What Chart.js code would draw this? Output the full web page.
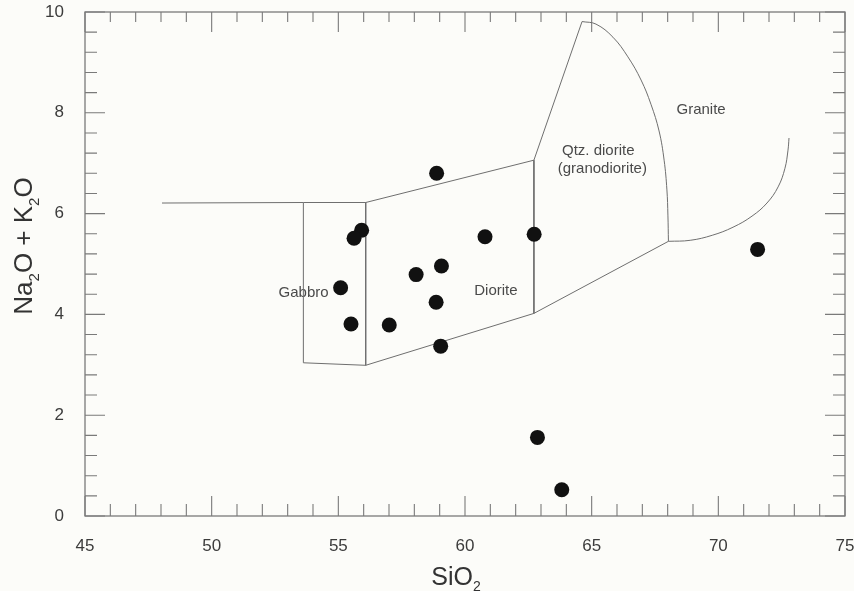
<!DOCTYPE html>
<html>
<head>
<meta charset="utf-8">
<script src="https://cdn.jsdelivr.net/npm/chart.js@4.4.1/dist/chart.umd.min.js"></script>
<style>
  html, body { margin: 0; padding: 0; background: #fcfcf9; }
  canvas { display: block; }
</style>
</head>
<body>
<canvas id="tas" width="854" height="591"></canvas>
<script>
// Sample analyses: SiO2 (wt%) and total alkalis Na2O + K2O (wt%)
const sio2   = [58.88, 55.92, 55.62, 60.79, 62.73, 59.07, 58.07, 55.09, 58.86, 55.50, 57.01, 59.04, 62.86, 63.82, 71.55];
const alkali = [6.80, 5.67, 5.51, 5.54, 5.59, 4.96, 4.79, 4.53, 4.24, 3.81, 3.79, 3.37, 1.56, 0.52, 5.29];

// Axis tick labels
const xTickLabels = [45, 50, 55, 60, 65, 70, 75];
const yTickLabels = [0, 2, 4, 6, 8, 10];

// Field boundaries of the plutonic classification, [SiO2, Na2O + K2O]
const upperBoundary = [[48.04, 6.21], [53.62, 6.22], [56.08, 6.22], [62.72, 7.06], [64.62, 9.81]];
const graniteArc = [[64.62, 9.81], [65.17, 9.76], [65.84, 9.50], [66.43, 9.11], [66.95, 8.65], [67.34, 8.17],
                    [67.66, 7.64], [67.86, 7.06], [67.97, 6.47], [68.01, 5.97], [68.03, 5.45]];
const lowerBoundary = [[68.03, 5.45], [62.72, 4.02], [56.08, 2.99], [53.62, 3.04], [53.62, 6.22]];
const gabbroDioriteDivide = [[56.08, 6.22], [56.08, 2.99]];
const dioriteQtzDivide = [[62.72, 7.06], [62.72, 4.02]];
const graniteFloor = [[68.03, 5.45], [68.89, 5.47], [69.76, 5.57], [70.58, 5.73], [71.33, 5.95],
                      [71.92, 6.21], [72.36, 6.53], [72.63, 6.90], [72.75, 7.26], [72.79, 7.50]];

// Field names and where they sit
const fieldNames = ['Gabbro', 'Diorite', 'Qtz. diorite', '(granodiorite)', 'Granite'];
const fieldNameX = [53.63, 61.22, 65.26, 65.42, 69.32];
const fieldNameY = [4.43, 4.46, 7.24, 6.88, 8.05];

const FONT = "'Liberation Sans', Arial, Helvetica, sans-serif";
const BG = '#fcfcf9';

const toXY = pairs => pairs.map(([x, y]) => ({ x, y }));
const boundary = (pairs, tension) => ({
  data: toXY(pairs),
  showLine: true,
  borderColor: '#6f6f6f',
  borderWidth: 1,
  pointRadius: 0,
  tension: tension || 0,
  fill: false
});

// Background fill
const backdrop = {
  id: 'backdrop',
  beforeDraw(chart) {
    const { ctx, width, height } = chart;
    ctx.save();
    ctx.fillStyle = BG;
    ctx.fillRect(0, 0, width, height);
    ctx.restore();
  }
};

// Boxed frame with inward ticks on all four sides, plus field names
const frameAndNames = {
  id: 'frameAndNames',
  beforeDatasetsDraw(chart) {
    const { ctx, chartArea: a, scales: { x, y } } = chart;
    ctx.save();
    ctx.strokeStyle = '#7a7a7a';
    ctx.lineWidth = 1.3;
    ctx.strokeRect(a.left, a.top, a.right - a.left, a.bottom - a.top);

    ctx.beginPath();
    ctx.lineWidth = 1.1;
    for (let v = x.min; v <= x.max; v += 1) {
      const px = x.getPixelForValue(v);
      const major = v % 5 === 0;
      ctx.moveTo(px, a.bottom); ctx.lineTo(px, a.bottom - (major ? 20 : 12));
      ctx.moveTo(px, a.top);    ctx.lineTo(px, a.top + (major ? 20 : 10));
    }
    for (let i = 0; i <= 25; i++) {
      const py = y.getPixelForValue(i * 0.4);
      const major = i % 5 === 0;
      ctx.moveTo(a.left, py);  ctx.lineTo(a.left + (major ? 20 : 12), py);
      ctx.moveTo(a.right, py); ctx.lineTo(a.right - (major ? 20 : 12), py);
    }
    ctx.stroke();

    ctx.fillStyle = '#4a4a4a';
    ctx.font = '15px ' + FONT;
    ctx.textAlign = 'center';
    ctx.textBaseline = 'middle';
    fieldNames.forEach((name, i) => {
      ctx.fillText(name, x.getPixelForValue(fieldNameX[i]), y.getPixelForValue(fieldNameY[i]));
    });
    ctx.restore();
  }
};

// Axis titles with chemical subscripts
function drawRuns(ctx, runs, size) {
  const fontFor = sub => (sub ? Math.round(size * 0.56) : size) + 'px ' + FONT;
  let total = 0;
  runs.forEach(([t, sub]) => { ctx.font = fontFor(sub); total += ctx.measureText(t).width; });
  let cx = -total / 2;
  runs.forEach(([t, sub]) => {
    ctx.font = fontFor(sub);
    ctx.fillText(t, cx, sub ? size * 0.25 : 0);
    cx += ctx.measureText(t).width;
  });
}

const axisTitles = {
  id: 'axisTitles',
  afterDraw(chart) {
    const { ctx, chartArea: a } = chart;
    ctx.save();
    ctx.fillStyle = '#333333';
    ctx.textAlign = 'left';
    ctx.textBaseline = 'alphabetic';

    ctx.save();
    ctx.translate((a.left + a.right) / 2 - 9, a.bottom + 69);
    drawRuns(ctx, [['SiO', false], ['2', true]], 25);
    ctx.restore();

    ctx.save();
    ctx.translate(32, (a.top + a.bottom) / 2 - 18);
    ctx.rotate(-Math.PI / 2);
    drawRuns(ctx, [['Na', false], ['2', true], ['O + K', false], ['2', true], ['O', false]], 26);
    ctx.restore();

    ctx.restore();
  }
};

new Chart(document.getElementById('tas'), {
  type: 'scatter',
  data: {
    datasets: [
      {
        data: sio2.map((v, i) => ({ x: v, y: alkali[i] })),
        pointRadius: 7.5,
        pointHoverRadius: 7.5,
        backgroundColor: '#111111',
        borderWidth: 0
      },
      boundary(upperBoundary),
      boundary(graniteArc, 0.4),
      boundary(lowerBoundary),
      boundary(gabbroDioriteDivide),
      boundary(dioriteQtzDivide),
      boundary(graniteFloor, 0.4)
    ]
  },
  options: {
    responsive: false,
    animation: false,
    devicePixelRatio: 1,
    layout: { padding: { top: 12, right: 9, left: 0, bottom: 0 } },
    plugins: { legend: { display: false }, tooltip: { enabled: false } },
    scales: {
      x: {
        type: 'linear',
        min: 45,
        max: 75,
        grid: { display: false, drawTicks: false },
        border: { display: false },
        ticks: {
          padding: 20,
          autoSkip: false,
          maxRotation: 0,
          color: '#3c3c3c',
          font: { family: FONT, size: 17 }
        },
        afterBuildTicks: s => { s.ticks = xTickLabels.map(v => ({ value: v })); },
        afterFit: s => { s.height = 75; s.paddingLeft = 0; s.paddingRight = 0; }
      },
      y: {
        type: 'linear',
        min: 0,
        max: 10,
        grid: { display: false, drawTicks: false },
        border: { display: false },
        ticks: {
          padding: 21,
          autoSkip: false,
          color: '#3c3c3c',
          font: { family: FONT, size: 17 }
        },
        afterBuildTicks: s => { s.ticks = yTickLabels.map(v => ({ value: v })); },
        afterFit: s => { s.width = 85; s.paddingTop = 0; s.paddingBottom = 0; }
      }
    }
  },
  plugins: [backdrop, frameAndNames, axisTitles]
});
</script>
</body>
</html>
